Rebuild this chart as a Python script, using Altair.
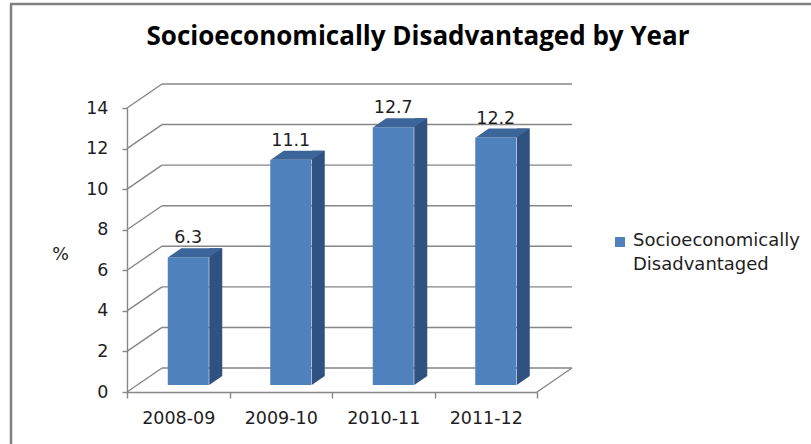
import altair as alt
import pandas as pd

# ---- data ----
years = ["2008-09", "2009-10", "2010-11", "2011-12"]
values = [6.3, 11.1, 12.7, 12.2]
series_name = "Socioeconomically Disadvantaged"
y_ticks = [0, 2, 4, 6, 8, 10, 12, 14]

bars = pd.DataFrame({"year": years, "value": values, "series": series_name})
grid = pd.DataFrame({"v": y_ticks})
floor = pd.DataFrame({"v": [y_ticks[0]]})
legend_words = series_name.split(" ")

# ---- geometry / style ----
W, H = 410, 284
DX, DY = 35, -24          # depth of back wall
FRONT, SIDE, TOP = "#4F81BD", "#2F5281", "#3C6599"
GRID = "#868686"
TXT = "#1e1e1e"
FONT = "DejaVu Sans"
FS = 17.5

yscale = alt.Scale(domain=[0, 14], nice=False, zero=True)
xscale = alt.Scale(type="band", domain=years, paddingInner=0, paddingOuter=0)

def X():
    return alt.X("year:N", scale=xscale, sort=years, title=None)

def Y(field):
    return alt.Y(field, scale=yscale, title="%")

# back wall horizontal gridlines
wall = alt.Chart(grid).mark_rule(color=GRID, strokeWidth=1.4, yOffset=DY).encode(
    y=Y("v:Q"), x=alt.value(DX), x2=alt.value(W + DX))
# left wall diagonals
diag = alt.Chart(grid).mark_rule(color=GRID, strokeWidth=1.4, y2Offset=DY).encode(
    y=Y("v:Q"), y2="v:Q", x=alt.value(0), x2=alt.value(DX))
# floor right edge
floor_r = alt.Chart(floor).mark_rule(color=GRID, strokeWidth=1.4, y2Offset=DY).encode(
    y=Y("v:Q"), y2="v:Q", x=alt.value(W), x2=alt.value(W + DX))

# bar side faces
side = alt.Chart(bars).mark_bar(color=SIDE, width=13, xOffset=37.5,
                                yOffset=-16, y2Offset=-16).encode(
    x=X(), y=Y("value:Q"), y2=alt.datum(0))
side_tri = alt.Chart(bars).transform_calculate(base="0").mark_point(
    shape="M-1,-0.6923L1,-0.6923L-1,0.6923Z", filled=True, size=169,
    color=SIDE, opacity=1, strokeWidth=0, xOffset=37.5, yOffset=-11.5).encode(
    x=X(), y=Y("base:Q"))
# bar front faces
front = alt.Chart(bars).mark_bar(color=FRONT, width=41, xOffset=10,
                                 yOffset=-7, y2Offset=-7).encode(
    x=X(), y=Y("value:Q"), y2=alt.datum(0))
# bar top faces
top = alt.Chart(bars).mark_point(
    shape="M-1,0.1667L0.5185,0.1667L1,-0.1667L-0.5185,-0.1667Z", filled=True,
    size=2916, color=TOP, opacity=1, strokeWidth=0, xOffset=17, yOffset=-11.5).encode(
    x=X(), y=Y("value:Q"))
# value labels
labels = alt.Chart(bars).mark_text(font=FONT, fontSize=FS, color=TXT, xOffset=10,
                                   yOffset=-26, baseline="middle").encode(
    x=X(), y=Y("value:Q"), text=alt.Text("value:Q", format=".1f"))

# legend (drawn by hand to get the two-line label)
leg_sym = alt.Chart(bars.head(1)).mark_square(size=100, color=FRONT, opacity=1).encode(
    x=alt.value(493), y=alt.value(134))
leg_txt1 = alt.Chart(bars.head(1)).mark_text(
    font=FONT, fontSize=18, color=TXT, align="left", baseline="middle",
    text=legend_words[0]).encode(x=alt.value(506), y=alt.value(133))
leg_txt2 = alt.Chart(bars.head(1)).mark_text(
    font=FONT, fontSize=18, color=TXT, align="left", baseline="middle",
    text=legend_words[1]).encode(x=alt.value(506), y=alt.value(157))

# outer frame
frame_top = alt.Chart(floor).mark_rule(color="#808080", strokeWidth=2.5).encode(
    x=alt.value(-117), x2=alt.value(700), y=alt.value(-104))
frame_left = alt.Chart(floor).mark_rule(color="#808080", strokeWidth=2.5).encode(
    x=alt.value(-116), y=alt.value(-104), y2=alt.value(340))

chart = alt.layer(
    wall, diag, floor_r, side, side_tri, front, top, labels,
    leg_sym, leg_txt1, leg_txt2, frame_top, frame_left
).resolve_scale(y="shared").properties(
    width=W, height=H,
    title=alt.TitleParams("Socioeconomically Disadvantaged by Year", font="Open Sans",
                          fontSize=26, fontWeight="bold", color="#000",
                          anchor="middle", dx=86, offset=-47, frame="group"),
    autosize=alt.AutoSizeParams(type="none"),
    padding={"left": 127, "top": 108, "right": 274, "bottom": 52},
).configure_view(stroke=None).configure_axisY(
    domainColor=GRID, domainWidth=1.4, tickColor=GRID, tickWidth=1.4, tickSize=5,
    grid=False, values=y_ticks, labelFont=FONT, labelFontSize=FS, labelColor=TXT,
    labelPadding=14, titleAngle=0, titleX=-67, titleY=146, titleAlign="center",
    titleBaseline="middle", titleFont=FONT, titleFontSize=FS,
    titleFontWeight="normal", titleColor=TXT,
).configure_axisX(
    domainColor=GRID, domainWidth=1.4, tickColor=GRID, tickWidth=1.4, tickSize=6,
    tickBand="extent", grid=False, labelFont=FONT, labelFontSize=FS,
    labelColor=TXT, labelPadding=11, labelAngle=0,
)

chart.save("out.html", embed_options={"renderer": "svg", "actions": False})
